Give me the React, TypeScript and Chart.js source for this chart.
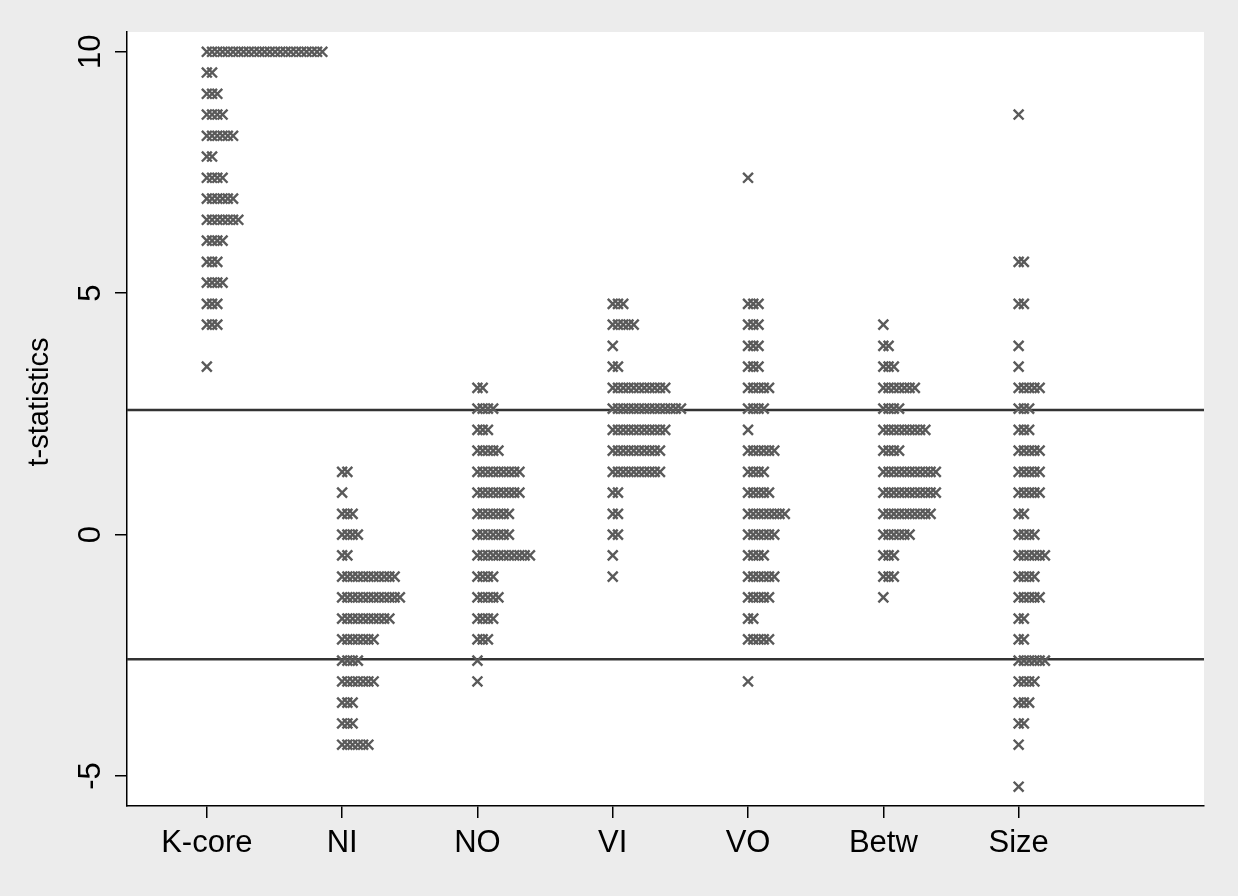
import React, { useEffect, useRef } from "react";
import { Chart, registerables } from "chart.js";

Chart.register(...registerables);

// ---------- data ----------
const categories = ["K-core", "NI", "NO", "VI", "VO", "Betw", "Size"];
const yTickValues = [-5, 0, 5, 10];
const criticalValues = [2.58, -2.58];

// t-statistic bins (row values) and number of observations in each row
const kcoreT = [10.0, 9.57, 9.13, 8.7, 8.26, 7.83, 7.39, 6.96, 6.52, 6.09, 5.65, 5.22, 4.78, 4.35, 3.48];
const kcoreN = [23, 2, 3, 4, 6, 2, 4, 6, 7, 4, 3, 4, 3, 3, 1];

const niT = [1.3, 0.87, 0.43, 0, -0.43, -0.87, -1.3, -1.74, -2.17, -2.61, -3.04, -3.48, -3.91, -4.35];
const niN = [2, 1, 3, 4, 2, 11, 12, 10, 7, 4, 7, 3, 3, 6];

const noT = [3.04, 2.61, 2.17, 1.74, 1.3, 0.87, 0.43, 0, -0.43, -0.87, -1.3, -1.74, -2.17, -2.61, -3.04];
const noN = [2, 4, 3, 5, 9, 9, 7, 7, 11, 4, 5, 4, 3, 1, 1];

const viT = [4.78, 4.35, 3.91, 3.48, 3.04, 2.61, 2.17, 1.74, 1.3, 0.87, 0.43, 0, -0.43, -0.87];
const viN = [3, 5, 1, 2, 11, 14, 11, 10, 10, 2, 2, 2, 1, 1];

const voT = [7.39, 4.78, 4.35, 3.91, 3.48, 3.04, 2.61, 2.17, 1.74, 1.3, 0.87, 0.43, 0, -0.43, -0.87, -1.3, -1.74, -2.17, -3.04];
const voN = [1, 3, 3, 3, 3, 5, 4, 1, 6, 4, 5, 8, 6, 4, 6, 5, 2, 5, 1];

const betwT = [4.35, 3.91, 3.48, 3.04, 2.61, 2.17, 1.74, 1.3, 0.87, 0.43, 0, -0.43, -0.87, -1.3];
const betwN = [1, 2, 3, 7, 4, 9, 4, 11, 11, 10, 6, 3, 3, 1];

const sizeT = [8.7, 5.65, 4.78, 3.91, 3.48, 3.04, 2.61, 2.17, 1.74, 1.3, 0.87, 0.43, 0, -0.43, -0.87, -1.3, -1.74, -2.17, -2.61, -3.04, -3.48, -3.91, -4.35, -5.22];
const sizeN = [1, 2, 2, 1, 1, 5, 3, 3, 5, 5, 5, 2, 4, 6, 4, 5, 2, 2, 6, 4, 3, 2, 1, 1];

// ---------- style ----------
const FONT = "'Liberation Sans', Arial, Helvetica, sans-serif";
const BG = "#ececec";
const MARK = "#5a5a5a";
const X_MIN = 0.41;
const X_MAX = 8.37;
const Y_MIN = -5.62;
const Y_MAX = 10.41;
const DOT_STEP = 0.0388; // horizontal spacing between stacked dots (x units)

export default function App() {
  const ref = useRef<HTMLCanvasElement>(null);

  useEffect(() => {
    const series: [number[], number[]][] = [
      [kcoreT, kcoreN],
      [niT, niN],
      [noT, noN],
      [viT, viN],
      [voT, voN],
      [betwT, betwN],
      [sizeT, sizeN],
    ];
    const points: { x: number; y: number }[] = [];
    series.forEach(([ts, ns], ci) => {
      ts.forEach((t, i) => {
        for (let j = 0; j < ns[i]; j++) points.push({ x: ci + 1 + j * DOT_STEP, y: t });
      });
    });

    const bgPlugin = {
      id: "plotBg",
      beforeDraw(chart: any) {
        const { ctx, chartArea } = chart;
        ctx.save();
        ctx.fillStyle = BG;
        ctx.fillRect(0, 0, chart.width, chart.height);
        ctx.fillStyle = "#ffffff";
        ctx.fillRect(chartArea.left, chartArea.top, chartArea.right - chartArea.left, chartArea.bottom - chartArea.top);
        ctx.restore();
      },
    };

    const yLabelPlugin = {
      id: "yLabels",
      afterDraw(chart: any) {
        const { ctx } = chart;
        const ys = chart.scales.y;
        ctx.save();
        ctx.fillStyle = "#000";
        ctx.textAlign = "center";
        ctx.textBaseline = "middle";
        ctx.font = `31px ${FONT}`;
        ys.ticks.forEach((t: any) => {
          const py = ys.getPixelForValue(t.value);
          ctx.save();
          ctx.translate(91, py);
          ctx.rotate(-Math.PI / 2);
          ctx.fillText(String(t.value), 0, 0);
          ctx.restore();
        });
        ctx.font = `29px ${FONT}`;
        ctx.save();
        ctx.translate(40, 402);
        ctx.rotate(-Math.PI / 2);
        ctx.fillText("t-statistics", 0, 0);
        ctx.restore();
        ctx.restore();
      },
    };

    const lineDatasets = criticalValues.map((c) => ({
      data: [
        { x: X_MIN, y: c },
        { x: X_MAX, y: c },
      ],
      showLine: true,
      borderColor: "#333333",
      borderWidth: 2.6,
      pointRadius: 0,
      order: 2,
    }));

    const chart = new Chart(ref.current as HTMLCanvasElement, {
      type: "scatter",
      data: {
        datasets: [
          ...lineDatasets,
          {
            data: points,
            pointStyle: "crossRot",
            pointRadius: 7,
            pointBorderWidth: 2.4,
            borderColor: MARK,
            backgroundColor: MARK,
            pointHoverRadius: 7,
            order: 1,
          },
        ] as any,
      },
      options: {
        responsive: false,
        animation: false,
        devicePixelRatio: 1,
        events: [],
        layout: { padding: { left: 0, top: 32, right: 34, bottom: 0 } },
        plugins: { legend: { display: false }, tooltip: { enabled: false } },
        scales: {
          x: {
            type: "linear",
            min: X_MIN,
            max: X_MAX,
            afterBuildTicks: (scale: any) => {
              scale.ticks = categories.map((_, i) => ({ value: i + 1 }));
            },
            afterFit: (scale: any) => {
              scale.height = 90;
            },
            ticks: {
              autoSkip: false,
              maxRotation: 0,
              minRotation: 0,
              padding: 7,
              color: "#000",
              font: { family: FONT, size: 31 },
              callback: (v: any) => categories[Math.round(Number(v)) - 1] ?? "",
            },
            grid: { drawOnChartArea: false, drawTicks: true, tickLength: 12, color: "#000", lineWidth: 1.5 },
            border: { display: true, color: "#000", width: 1.5 },
          },
          y: {
            type: "linear",
            min: Y_MIN,
            max: Y_MAX,
            afterBuildTicks: (scale: any) => {
              scale.ticks = yTickValues.map((v) => ({ value: v }));
            },
            afterFit: (scale: any) => {
              scale.width = 127;
            },
            ticks: { display: false },
            grid: { drawOnChartArea: false, drawTicks: true, tickLength: 12, color: "#000", lineWidth: 1.5 },
            border: { display: true, color: "#000", width: 1.5 },
          },
        },
      } as any,
      plugins: [bgPlugin, yLabelPlugin],
    });

    return () => chart.destroy();
  }, []);

  return (
    <div style={{ position: "fixed", left: 0, top: 0, width: 1238, height: 896, background: BG }}>
      <canvas ref={ref} width={1238} height={896} style={{ display: "block", width: 1238, height: 896 }} />
    </div>
  );
}
